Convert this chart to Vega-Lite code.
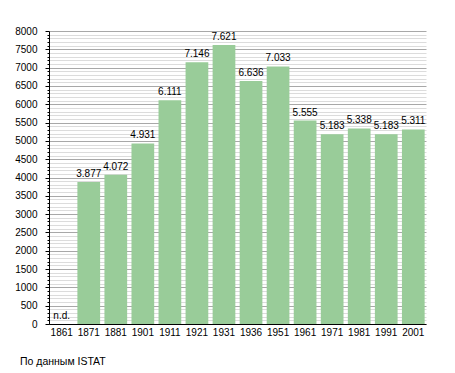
{
  "$schema": "https://vega.github.io/schema/vega-lite/v6.json",
  "width": 377,
  "height": 293,
  "autosize": "none",
  "padding": {"left": 49, "top": 31, "right": 29, "bottom": 49},
  "config": {"view": {"stroke": null}, "font": "Liberation Sans"},
  "title": {
    "text": "По данным  ISTAT",
    "orient": "bottom",
    "anchor": "start",
    "frame": "group",
    "offset": 20,
    "dx": -29,
    "fontSize": 10.5,
    "fontWeight": "normal",
    "color": "#000"
  },
  "data": {
    "values": [
      {"year": "1861", "value": 0, "label": "n.d."},
      {"year": "1871", "value": 3877, "label": "3.877"},
      {"year": "1881", "value": 4072, "label": "4.072"},
      {"year": "1901", "value": 4931, "label": "4.931"},
      {"year": "1911", "value": 6111, "label": "6.111"},
      {"year": "1921", "value": 7146, "label": "7.146"},
      {"year": "1931", "value": 7621, "label": "7.621"},
      {"year": "1936", "value": 6636, "label": "6.636"},
      {"year": "1951", "value": 7033, "label": "7.033"},
      {"year": "1961", "value": 5555, "label": "5.555"},
      {"year": "1971", "value": 5183, "label": "5.183"},
      {"year": "1981", "value": 5338, "label": "5.338"},
      {"year": "1991", "value": 5183, "label": "5.183"},
      {"year": "2001", "value": 5311, "label": "5.311"}
    ]
  },
  "encoding": {
    "x": {
      "field": "year",
      "type": "ordinal",
      "sort": null,
      "scale": {"paddingInner": 0.16, "paddingOuter": 0.05},
      "axis": {
        "title": null,
        "labelAngle": 0,
        "ticks": false,
        "labelPadding": 3,
        "labelFontSize": 10,
        "labelColor": "#000",
        "domainColor": "#000",
        "grid": false
      }
    },
    "y": {
      "field": "value",
      "type": "quantitative",
      "scale": {"domain": [0, 8000], "nice": false},
      "axis": {
        "title": null,
        "values": [0,100,200,300,400,500,600,700,800,900,1000,1100,1200,1300,1400,1500,1600,1700,1800,1900,2000,2100,2200,2300,2400,2500,2600,2700,2800,2900,3000,3100,3200,3300,3400,3500,3600,3700,3800,3900,4000,4100,4200,4300,4400,4500,4600,4700,4800,4900,5000,5100,5200,5300,5400,5500,5600,5700,5800,5900,6000,6100,6200,6300,6400,6500,6600,6700,6800,6900,7000,7100,7200,7300,7400,7500,7600,7700,7800,7900,8000],
        "format": "d",
        "labelExpr": "datum.value % 500 === 0 ? datum.label : ''",
        "labelFontSize": 10,
        "labelColor": "#000",
        "labelPadding": 8,
        "tickSize": {"condition": {"test": "datum.value % 500 === 0", "value": 4}, "value": 2},
        "tickColor": "#000",
        "domainColor": "#000",
        "grid": true,
        "gridColor": {"condition": {"test": "datum.value % 500 === 0", "value": "#a8a8a8"}, "value": "#dcdcdc"},
        "gridOpacity": 1
      }
    }
  },
  "layer": [
    {"mark": {"type": "bar", "color": "#99cc99"}},
    {
      "mark": {"type": "text", "baseline": "bottom", "dy": -3, "fontSize": 10, "color": "#000"},
      "encoding": {"text": {"field": "label"}}
    }
  ]
}
